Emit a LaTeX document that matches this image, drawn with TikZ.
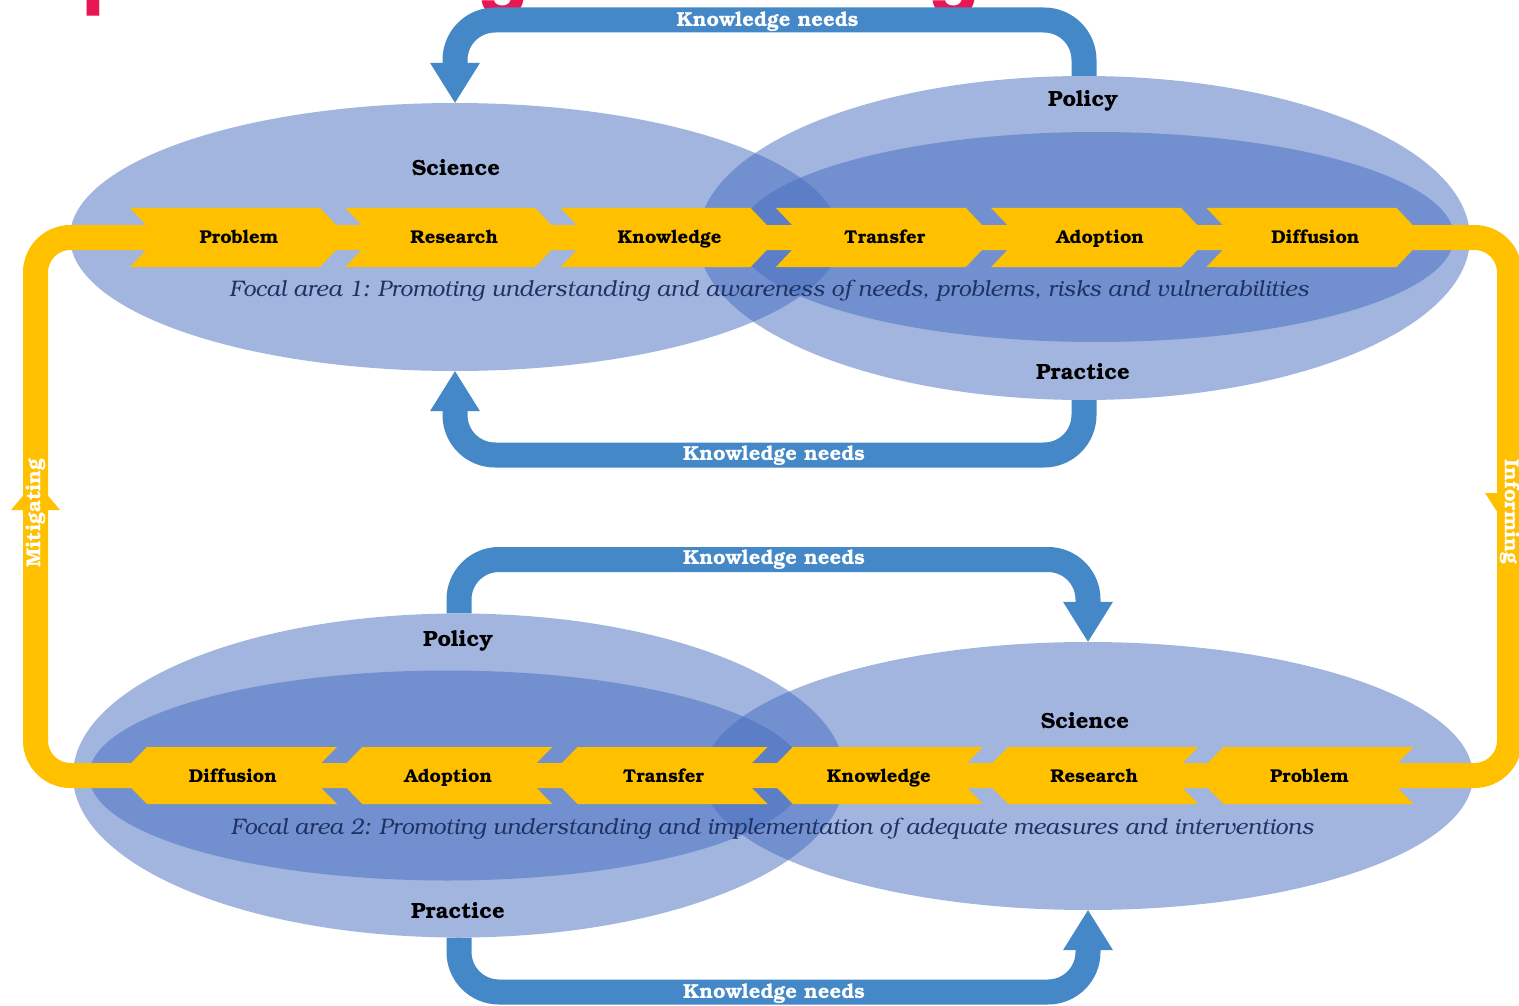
\documentclass[tikz,border=0pt]{standalone}
\usepackage[T1]{fontenc}
\usepackage{fontspec}
\newfontfamily\titlef{Poppins}
\usetikzlibrary{shapes.geometric,arrows.meta}
\definecolor{ellc}{RGB}{69,109,193}
\definecolor{yel}{RGB}{255,192,0}
\definecolor{kblue}{RGB}{68,136,199}
\definecolor{navy}{RGB}{30,50,100}
\definecolor{tred}{RGB}{232,22,82}
\newcommand{\bkfont}{\fontencoding{T1}\fontfamily{pbk}\selectfont}
\tikzset{
  ell/.style={ellipse, draw=none, fill=ellc, fill opacity=0.5, inner sep=0pt},
  lab/.style={font=\bkfont\bfseries\fontsize{18.5}{22}\selectfont, text=black, inner sep=0pt, anchor=base},
  role/.style={font=\bkfont\bfseries\fontsize{22}{26}\selectfont, text=black, inner sep=0pt, anchor=base},
  wlab/.style={font=\bkfont\bfseries\fontsize{20.3}{24}\selectfont, text=white, inner sep=0pt},
  captxt/.style={font=\bkfont\itshape\fontsize{22.5}{26}\selectfont, text=navy, inner sep=0pt, anchor=base},
  kn/.style={draw=kblue, line width=25pt, rounded corners=40pt, -{Triangle[length=40pt,width=50pt,line width=0pt]}},
  band/.style={draw=yel, line width=25pt, rounded corners=35pt},
  ttl/.style={anchor=base west, inner sep=0pt, text=tred, font=\titlef\bfseries\fontsize{74}{74}\selectfont},
  chevr/.pic={\fill[yel] (0,-29.5) -- (190,-29.5) -- (218,0) -- (190,29.5) -- (0,29.5) -- (28,0) -- cycle;},
  chevl/.pic={\fill[yel] (0,-28.5) -- (-190,-28.5) -- (-218,0) -- (-190,28.5) -- (0,28.5) -- (-28,0) -- cycle;}
}
\begin{document}
\begin{tikzpicture}[x=1pt,y=-1pt]
\useasboundingbox (0,0) rectangle (1519,1006);
\clip (0,0) rectangle (1519,1006);
\fill[white] (0,0) rectangle (1519,1006);
% cropped title fragments
\node[ttl] (ttp) at (82,-3) {p};
\node[ttl] (ttg1) at (478,-3) {g};
\node[ttl] (ttg2) at (929,-3) {g};
% ellipses
\node[ell, minimum width=770pt, minimum height=268pt] (sciT) at (455,237) {};
\node[ell, minimum width=772pt, minimum height=324pt] (ppT) at (1084,238) {};
\node[ell, minimum width=716pt, minimum height=210pt] (ppTi) at (1096,237) {};
\node[ell, minimum width=772pt, minimum height=324pt] (ppB) at (459,775.5) {};
\node[ell, minimum width=716pt, minimum height=210pt] (ppBi) at (447,775.5) {};
\node[ell, minimum width=770pt, minimum height=268pt] (sciB) at (1088,776) {};
% role labels
\node[role] (lSciT) at (456,176) {Science};
\node[role] (lPolT) at (1083,107) {Policy};
\node[role] (lPraT) at (1083,379) {Practice};
\node[role] (lPolB) at (458,646) {Policy};
\node[role] (lSciB) at (1085,728) {Science};
\node[role] (lPraB) at (458,918) {Practice};
% knowledge needs arrows
\draw[kn] (ppT.north) -- (ppT.north |- 0,20) -| (sciT.north);
\draw[kn] (ppT.south) -- (ppT.south |- 0,455) -| (sciT.south);
\draw[kn] (ppB.north) -- (ppB.north |- 0,559.5) -| (sciB.north);
\draw[kn] (ppB.south) -- (ppB.south |- 0,992) -| (sciB.south);
\node[wlab, anchor=base] (kn1) at (767.5,26.5) {Knowledge needs};
\node[wlab, anchor=base] (kn2) at (774,460.5) {Knowledge needs};
\node[wlab, anchor=base] (kn3) at (774,564.5) {Knowledge needs};
\node[wlab, anchor=base] (kn4) at (774,998.5) {Knowledge needs};
% yellow loop
\coordinate (bT) at (700,237.5);
\coordinate (bTR) at (1509.5,237.5);
\coordinate (bBR) at (1509.5,775.5);
\coordinate (bBL) at (35.5,775.5);
\coordinate (bTL) at (35.5,237.5);
\draw[band] (bT) -- (bTR) -- (bBR) -- (bBL) -- (bTL) -- cycle;
\fill[yel] (11,510) -- (35.5,481) -- (60,510) -- cycle;
\fill[yel] (1485,493) -- (1509.5,531) -- (1534,493) -- cycle;
\node[wlab, rotate=90] (mit) at (35.5,513) {Mitigating};
\node[wlab, rotate=-90] (inf) at (1510,512) {Informing};
% chevrons
\foreach \i in {0,...,5} {
  \pic at ({130+215.3*\i},237.5) {chevr};
  \pic at ({337+215.3*\i},775.5) {chevl};
}
\node[lab] (p1) at (239,243) {Problem};
\node[lab] (p2) at (454.3,243) {Research};
\node[lab] (p3) at (669.6,243) {Knowledge};
\node[lab] (p4) at (884.9,243) {Transfer};
\node[lab] (p5) at (1100.2,243) {Adoption};
\node[lab] (p6) at (1315.5,243) {Diffusion};
\node[lab] (q1) at (233,782) {Diffusion};
\node[lab] (q2) at (448.3,782) {Adoption};
\node[lab] (q3) at (663.6,782) {Transfer};
\node[lab] (q4) at (878.9,782) {Knowledge};
\node[lab] (q5) at (1094.2,782) {Research};
\node[lab] (q6) at (1309.5,782) {Problem};
% captions
\node[captxt] (cap1) at (769,296) {Focal area 1: Promoting understanding and awareness of needs, problems, risks and vulnerabilities};
\node[captxt] (cap2) at (772,834) {Focal area 2: Promoting understanding and implementation of adequate measures and interventions};
\end{tikzpicture}
\end{document}
